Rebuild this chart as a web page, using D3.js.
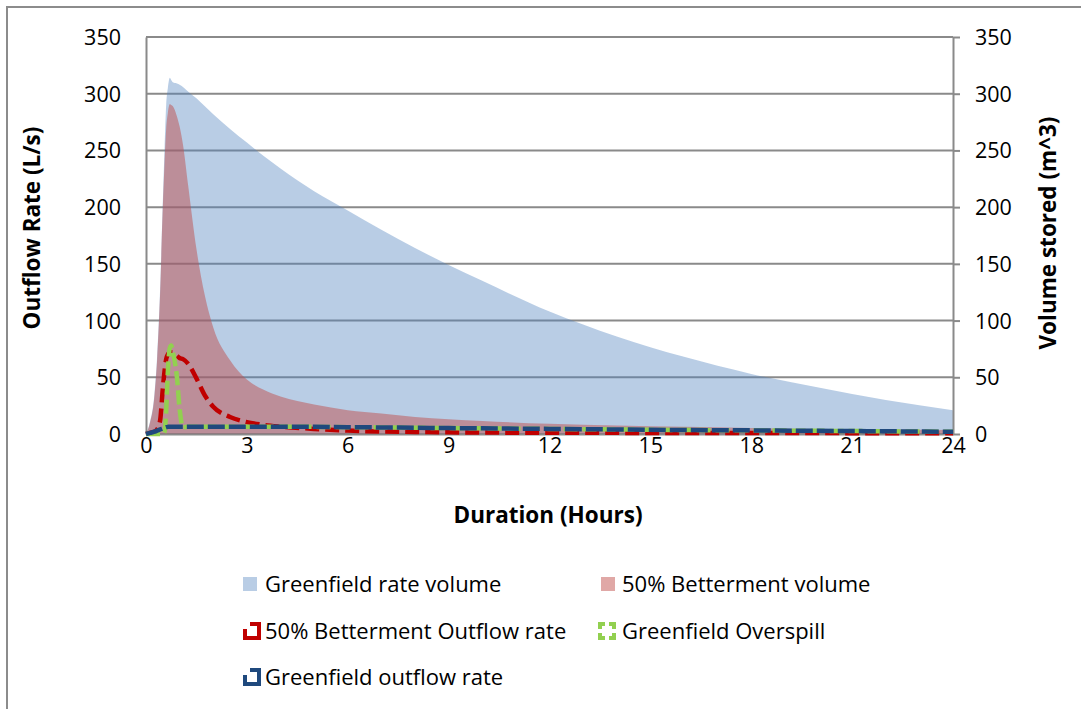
<!DOCTYPE html>
<html><head><meta charset="utf-8">
<script src="https://cdn.jsdelivr.net/npm/d3@7"></script>
<style>
html,body{margin:0;padding:0;background:#fff;}
svg{display:block;font-family:"Open Sans","Noto Sans",sans-serif;}
</style></head>
<body><svg id="chart" width="1081" height="709"></svg>
<script>
// ---- data ----
const hours = [0,0.12,0.25,0.33,0.42,0.5,0.55,0.6,0.65,0.71,0.75,0.8,0.92,1.0,1.1,1.25,1.5,1.75,2,2.5,3,3.5,4,5,6,7,8,9,10,12,14,16,18,20,22,24];
const greenfieldVolume = [0,11,35,68,128,205,250,290,305,314,312,310,309,308,306,302,296,289,282,269,257,245,234,214,197,180,164,149,135,108,86,68,53,41,30,21];
const bettermentVolume = [0,10,33,65,124,200,238,269,283,291,290,289,280,271,255,220,163,122,94,65,48,39,33,26,21,18,15,13,11.5,9,7.5,6.3,5.3,4.5,4,3.5];
const bettermentOutflow = [0,1,2,4,12,40,55,66,70,72,72,72,69,67,66,62,49,34,24,15,10.5,8,6.5,4.5,3,2.2,1.8,1.5,1.3,1.1,1,0.9,0.8,0.8,0.7,0.7];
const greenfieldOverspill = [0,0,0,0,0,0,2,20,55,76,78,72,50,22,6,6.5,6.5,6.5,6.5,6.5,6.5,6.5,6.5,6.3,6,5.8,5.5,5.2,5,4.5,4,3.5,3.2,2.8,2.4,2];
const greenfieldOutflow = [0,1,2,3,4,5,5.5,6,6.3,6.5,6.5,6.5,6.5,6.5,6.5,6.5,6.5,6.5,6.5,6.5,6.5,6.5,6.5,6.3,6,5.8,5.5,5.2,5,4.5,4,3.5,3.2,2.8,2.4,2];
const xTicks = [0,3,6,9,12,15,18,21,24];
const yTicks = [0,50,100,150,200,250,300,350];
const legendLabels = ["Greenfield rate volume","50% Betterment volume","50% Betterment Outflow rate","Greenfield Overspill","Greenfield outflow rate"];

// ---- drawing ----
const svg = d3.select("#chart");
const x = d3.scaleLinear().domain([0,24]).range([146,953]);
const yL = d3.scaleLinear().domain([0,350]).range([434,37]);
const yR = d3.scaleLinear().domain([0,350]).range([434,37]);
const grid = "#8a8a8a";
const FS = 21.5;

// outer frame
svg.append("path").attr("d","M7,709V7H1081").attr("fill","none").attr("stroke","#8c8c8c").attr("stroke-width",2);

// gridlines
svg.append("g").selectAll("line").data(yTicks).join("line")
  .attr("x1",x(0)).attr("x2",x(24)).attr("y1",d=>yL(d)).attr("y2",d=>yL(d))
  .attr("stroke",grid).attr("stroke-width",2);

const pts = hours.map((h,i)=>i);
const area = (arr)=>d3.area().x(i=>x(hours[i])).y0(yR(0)).y1(i=>yR(arr[i])).curve(d3.curveMonotoneX)(pts);
const line = (arr)=>d3.line().x(i=>x(hours[i])).y(i=>yL(arr[i])).curve(d3.curveMonotoneX)(pts);

svg.append("path").attr("d",area(greenfieldVolume)).attr("fill","#4F81BD").attr("fill-opacity",0.4);
svg.append("path").attr("d",area(bettermentVolume)).attr("fill","#C0504D").attr("fill-opacity",0.5);

// axes
const axL = svg.append("g").attr("transform",`translate(${x(0)},0)`)
  .call(d3.axisLeft(yL).tickValues(yTicks).tickSize(0).tickPadding(25));
const axR = svg.append("g").attr("transform",`translate(${x(24)},0)`)
  .call(d3.axisRight(yR).tickValues(yTicks).tickSize(7).tickSizeOuter(0).tickPadding(15));
const axB = svg.append("g").attr("transform",`translate(0,${yL(0)})`)
  .call(d3.axisBottom(x).tickValues(xTicks).tickSize(0).tickPadding(3));
[axL,axR,axB].forEach(g=>{
  g.select(".domain").attr("stroke",grid).attr("stroke-width",2);
  g.selectAll(".tick line").attr("stroke",grid).attr("stroke-width",2);
  g.selectAll("text").attr("font-size",FS).attr("fill","#000").attr("font-family","Open Sans");
});
axB.selectAll("text").attr("dy","0.75em");
axL.selectAll("text").attr("dy","0.35em");
axR.selectAll("text").attr("dy","0.35em");

// lines
const lines = [
  {arr:bettermentOutflow,color:"#C00000",dash:"14 6"},
  {arr:greenfieldOverspill,color:"#92D050",dash:"14 5"},
  {arr:greenfieldOutflow,color:"#1F497D",dash:"17 4"}
];
lines.forEach(l=>{
  svg.append("path").attr("d",line(l.arr)).attr("fill","none")
    .attr("stroke",l.color).attr("stroke-width",4.5).attr("stroke-dasharray",l.dash);
});

// axis titles
svg.append("text").attr("x",548).attr("y",523).attr("text-anchor","middle")
  .attr("font-size",22.5).attr("font-weight","bold").text("Duration (Hours)");
svg.append("text").attr("transform","translate(40,228) rotate(-90)").attr("text-anchor","middle")
  .attr("font-size",22.5).attr("font-weight","bold").text("Outflow Rate (L/s)");
svg.append("text").attr("transform","translate(1056,233) rotate(-90)").attr("text-anchor","middle")
  .attr("font-size",22.5).attr("font-weight","bold").text("Volume stored (m^3)");

// legend
const leg = [
  {t:legendLabels[0],type:"area",fill:"#B9CDE5",sx:243,tx:265,y:584},
  {t:legendLabels[1],type:"area",fill:"#E0A8A6",sx:601,tx:622,y:584},
  {t:legendLabels[2],type:"line",color:"#C00000",dash:"0 5 46 5",sx:243,tx:265,y:631},
  {t:legendLabels[3],type:"line",color:"#92D050",dash:"5 4 10 4 10 4 10 4 5",sx:598,tx:622,y:631},
  {t:legendLabels[4],type:"line",color:"#1F497D",dash:"0 5 46 5",sx:243,tx:265,y:677}
];
leg.forEach(d=>{
  if(d.type==="area"){
    svg.append("rect").attr("x",d.sx).attr("y",d.y-7).attr("width",14).attr("height",14).attr("fill",d.fill);
  } else {
    svg.append("rect").attr("x",d.sx+2).attr("y",d.y-7).attr("width",14).attr("height",14)
      .attr("fill","none").attr("stroke",d.color).attr("stroke-width",4).attr("stroke-dasharray",d.dash);
  }
  svg.append("text").attr("x",d.tx).attr("y",d.y).attr("dy","0.35em").attr("font-size",22).text(d.t);
});
</script></body></html>
